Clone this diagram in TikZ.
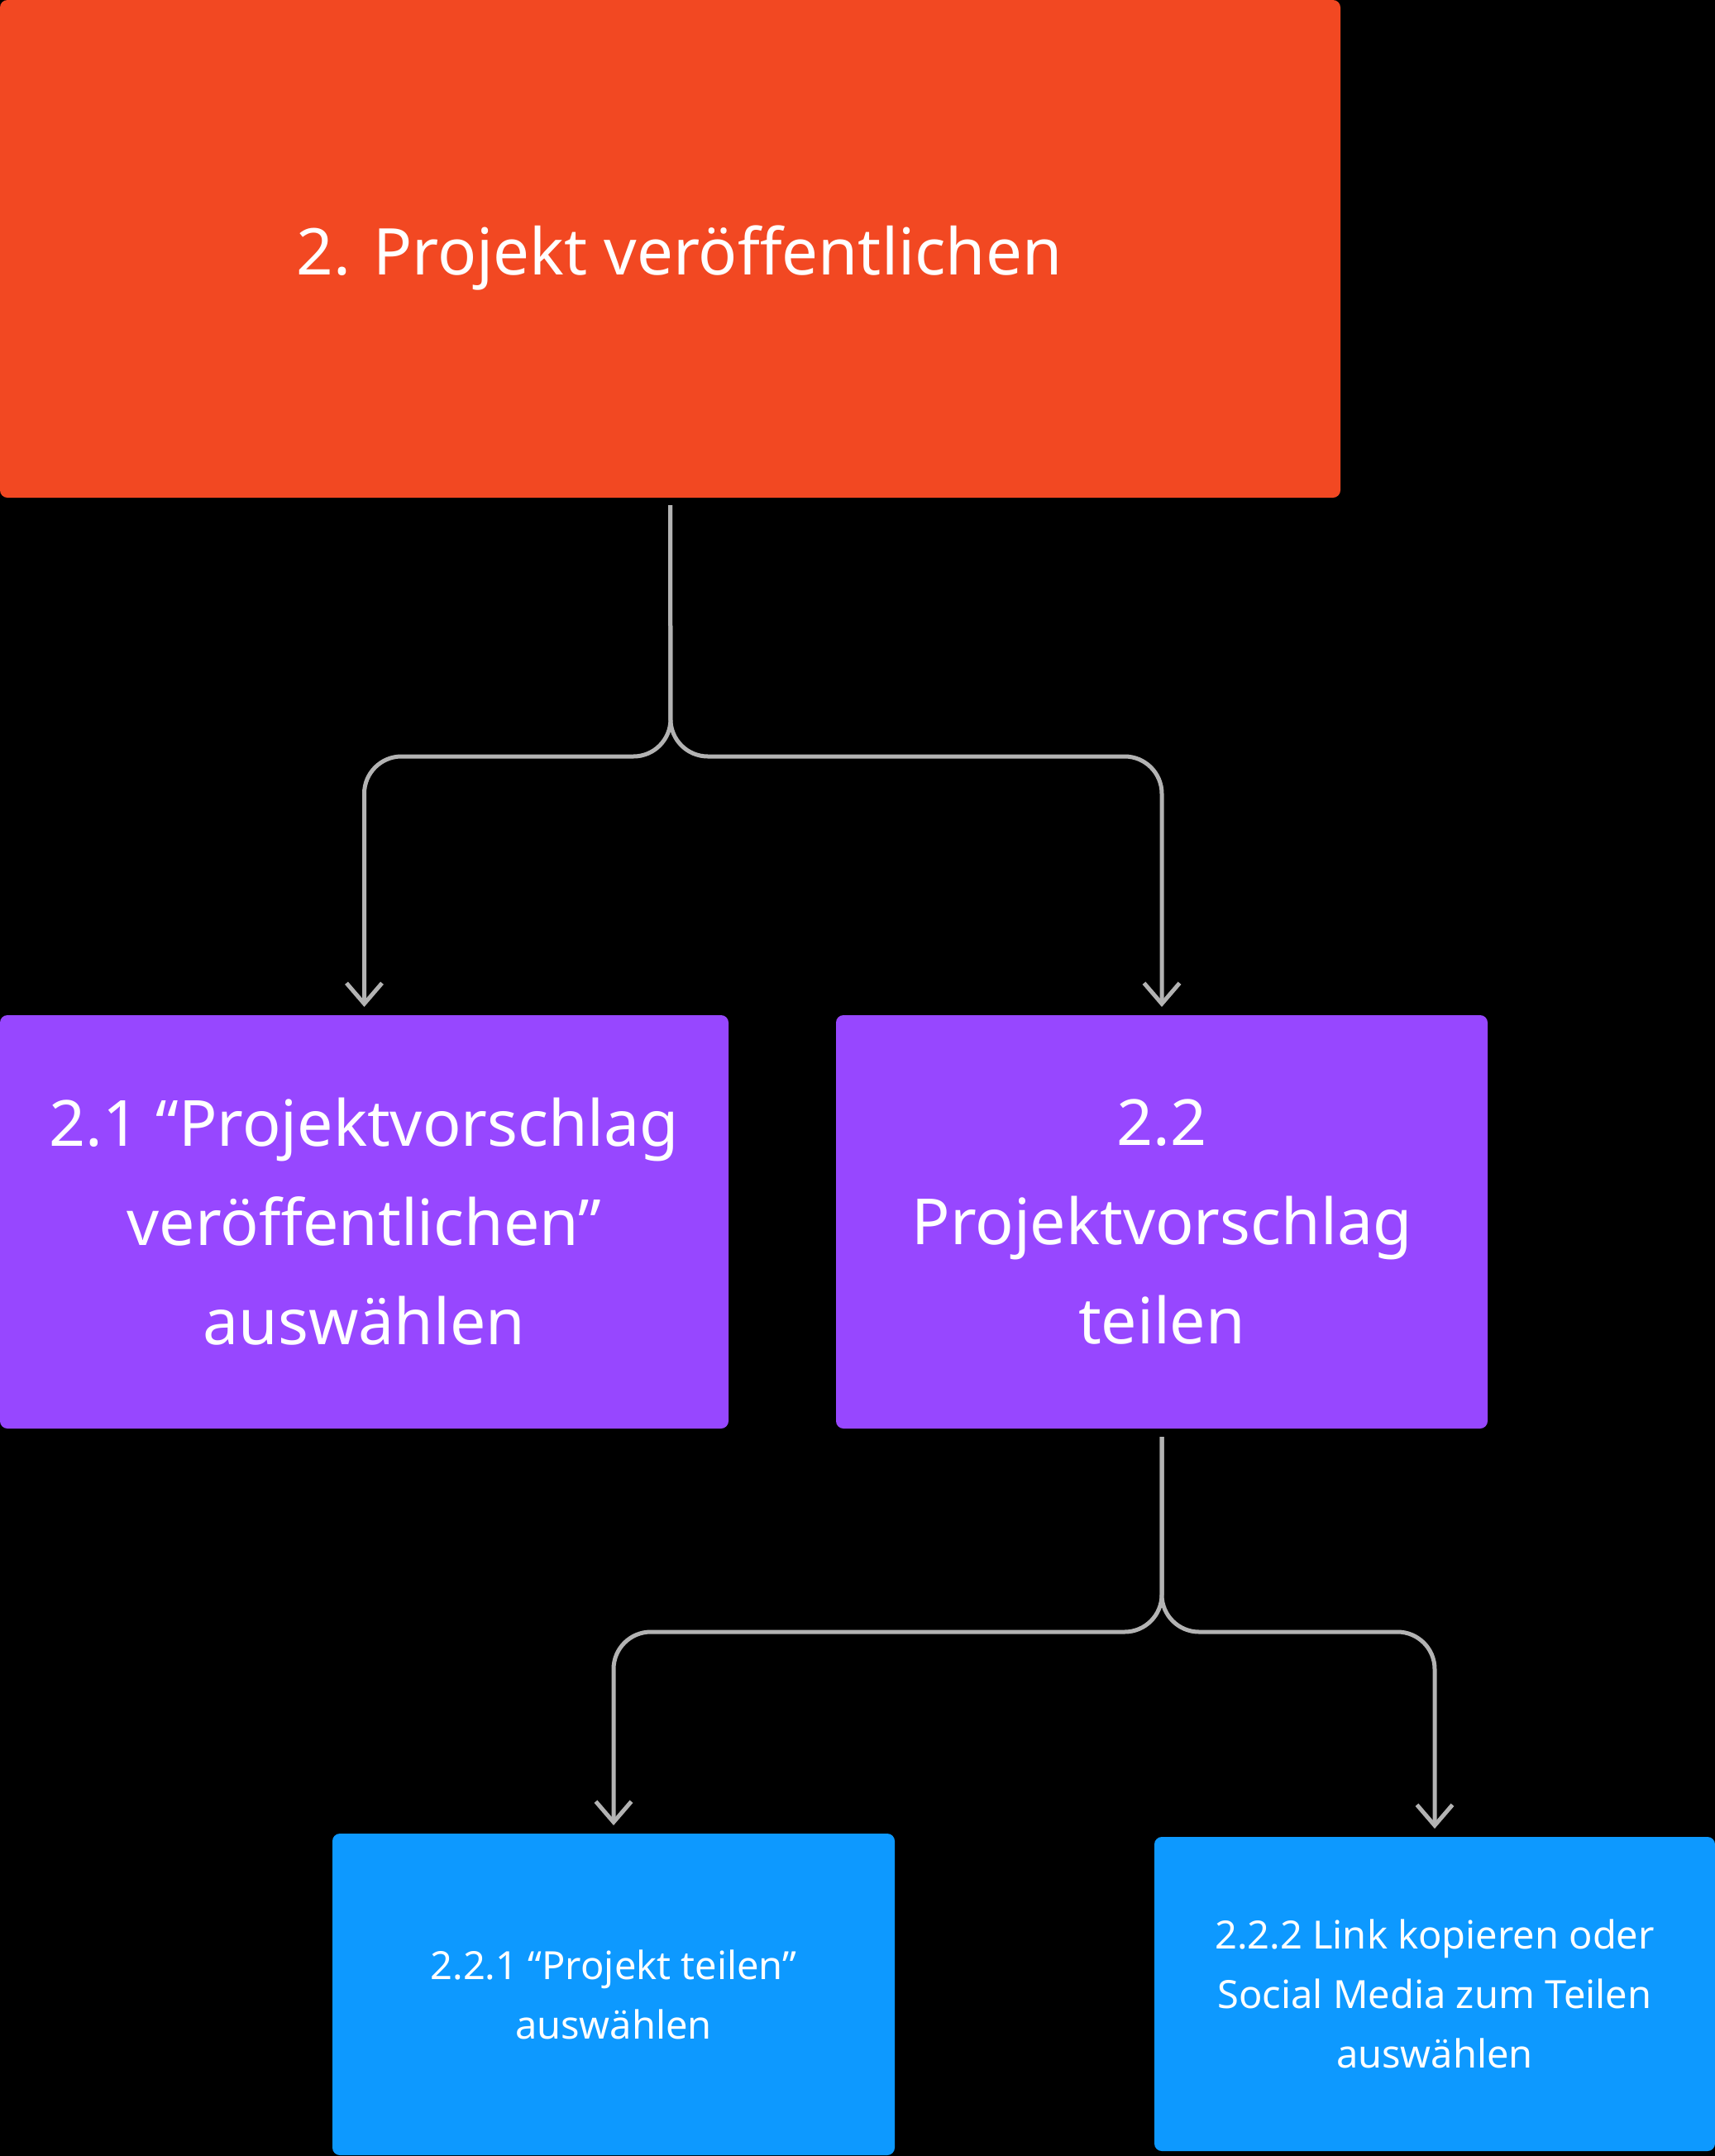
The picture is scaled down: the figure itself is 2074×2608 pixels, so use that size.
\documentclass[tikz,border=0pt]{standalone}
\usepackage{fontspec}
\setmainfont{Noto Sans}
\usetikzlibrary{arrows.meta}
\definecolor{cred}{HTML}{F24822}
\definecolor{cpurple}{HTML}{9747FF}
\definecolor{cblue}{HTML}{0D99FF}
\definecolor{cline}{HTML}{B3B3B3}
\tikzset{
  box/.style={rectangle, rounded corners=9pt, inner sep=0pt, outer sep=0pt, text=white, align=center},
  bigtext/.style={font=\fontsize{77}{120}\selectfont},
  smalltext/.style={font=\fontsize{47}{72}\selectfont},
  conn/.style={draw=cline, line width=5pt, rounded corners=45pt, -{Straight Barb[length=25pt,width=43pt,line width=5pt]}},
}
\begin{document}
\begin{tikzpicture}[x=1pt,y=-1pt]
\fill[black] (0,0) rectangle (2074,2608);
\useasboundingbox (0,0) rectangle (2074,2608);
\node[box, fill=cred, minimum width=1621pt, minimum height=602pt, font=\fontsize{78}{120}\selectfont] (red) at (810.5,301) {\hspace*{22pt}\raisebox{-11pt}[\height][\depth]{2. Projekt veröffentlichen}};
\node[box, fill=cpurple, minimum width=881pt, minimum height=500pt, bigtext] (p1) at (440.5,1478) {2.1 “Projektvorschlag\\veröffentlichen”\\auswählen};
\node[box, fill=cpurple, minimum width=788pt, minimum height=500pt, bigtext] (p2) at (1405,1478) {2.2\\Projektvorschlag\\teilen};
\node[box, fill=cblue, minimum width=680pt, minimum height=389pt, smalltext] (b1) at (742,2412.5) {2.2.1 “Projekt teilen”\\auswählen};
\node[box, fill=cblue, minimum width=678pt, minimum height=380pt, smalltext] (b2) at (1735,2412) {2.2.2 Link kopieren oder\\Social Media zum Teilen\\auswählen};
\coordinate (j1) at (811,915);
\coordinate (j2) at (1405,1974);
\draw[conn] ([yshift=-9pt]red.south) -- (j1) -| ([yshift=10pt]p1.north);
\draw[conn] ([yshift=-9pt]red.south) -- (j1) -| ([yshift=10pt]p2.north);
\draw[conn] ([yshift=-10pt]p2.south) -- (j2) -| ([yshift=10pt]b1.north);
\draw[conn] ([yshift=-10pt]p2.south) -- (j2) -| ([yshift=10pt]b2.north);
\end{tikzpicture}
\end{document}
